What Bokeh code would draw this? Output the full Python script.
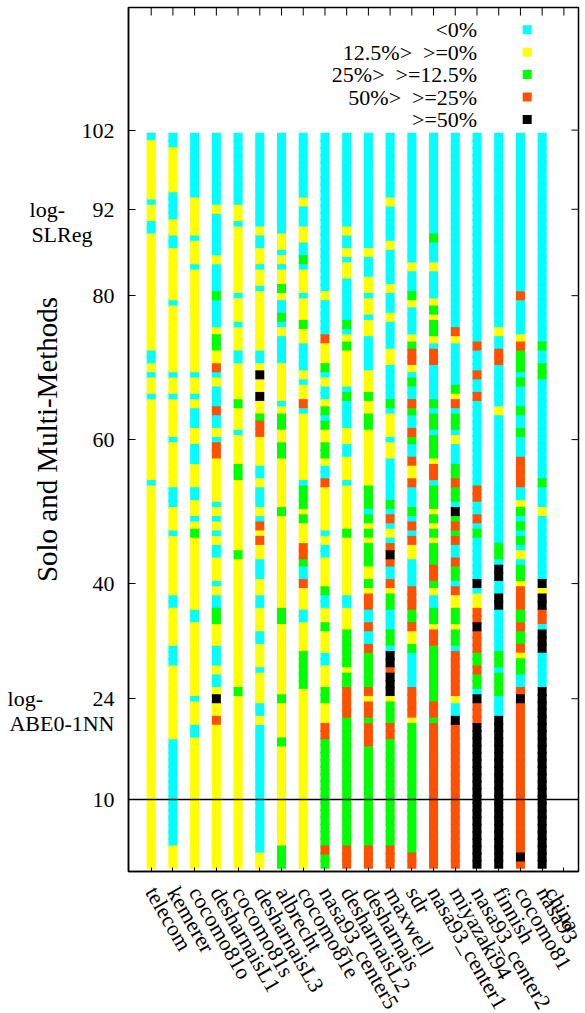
import math
from bokeh.plotting import figure
from bokeh.models import FixedTicker, LinearAxis, Span, Range1d
from bokeh.embed import file_html
from bokeh.resources import INLINE
from bokeh.core.properties import value

# ---------------- data ----------------
datasets = ["telecom", "kemerer", "cocomo81o", "desharnaisL1", "cocomo81s",
            "desharnaisL3", "albrecht", "cocomo81e", "nasa93_center5",
            "desharnaisL2", "desharnais", "maxwell", "sdr", "nasa93_center1",
            "miyazaki94", "nasa93_center2", "finnish", "cocomo81", "nasa93", "china"]

# colour class of each of the 102 methods (rows 1..102, bottom to top), run-length coded
# C: <0%   Y: 12.5%> >=0%   G: 25%> >=12.5%   O: 50%> >=25%   K: >=50%
telecom = "Y53 C1 Y11 C1 Y2 C1 Y1 C2 Y16 C2 Y2 C1 Y8 C1"
kemerer = "Y3 C15 Y10 C3 Y5 C2 Y8 C1 Y3 C3 Y6 C1 Y5 C1 Y2 C1 Y9 C1 Y7 C2 Y2 C4 Y6 C2"
cocomo81o = "Y18 C2 Y3 C1 Y10 C2 Y10 G1 Y1 C1 Y2 C2 Y3 C3 Y2 C3 Y1 C1 Y2 C1 Y14 C1 Y3 C1 Y5 C9"
desharnaisL1 = ("Y20 O1 Y2 K1 Y1 C2 Y1 C3 Y3 G2 C2 Y1 C1 Y3 C2 Y1 C1 Y1 C1 Y1 C1 Y6 O2 C1 Y1 "
                "C2 O1 C3 Y1 C1 O1 Y2 G2 Y1 C4 G1 C4 Y1 C6 Y1 C10")
cocomo81s = "Y24 G1 Y18 G1 Y10 G2 Y4 C1 Y3 G1 Y5 C2 Y3 C1 Y3 C1 Y9 C1 Y2 C10"
desharnaisL3 = ("Y2 C18 Y1 C2 Y4 C1 Y3 C2 Y3 C2 Y2 C3 Y2 O1 Y1 O1 C1 Y1 C3 Y1 C2 Y4 O2 G1 Y2 "
                "K1 Y2 K1 Y1 C2 Y8 C1 Y2 C1 Y2 C2 Y1 C13")
albrecht = ("G3 Y14 G1 Y5 G1 Y10 G2 Y13 G1 Y7 G2 Y2 G2 Y1 C1 Y5 C4 Y1 C1 G1 C2 Y1 G1 Y2 C1 "
            "Y1 C1 Y2 C14")
cocomo81e = ("Y25 G5 Y4 C2 Y3 O1 C2 G1 O2 Y3 G1 Y1 G3 C1 Y9 C1 O1 Y2 C1 Y1 C4 Y2 G1 Y3 C1 "
             "Y3 C1 G1 C2 Y2 C3 Y1 C9")
nasa93_center5 = ("G2 O1 G15 O2 Y3 G2 Y3 C2 Y3 G1 Y2 C2 G1 Y4 C2 Y1 C1 Y6 O1 C2 Y1 G2 Y2 G1 "
                  "C1 G1 Y1 C2 Y1 C1 G1 Y3 O1 C5 Y1 C22")
desharnaisL2 = ("O3 G18 O4 G2 Y1 G5 Y3 C2 Y8 G1 Y6 C1 Y3 C2 Y2 C4 G1 C1 Y5 G1 Y1 C1 G1 C6 "
                "Y2 C1 Y1 C2 Y1 C13")
desharnais = ("O3 G14 O3 G1 O2 Y1 O1 G5 O1 C2 O1 C2 O2 Y1 G1 Y2 G3 Y1 G1 Y1 G1 C1 G3 Y8 G2 "
              "Y2 G1 Y3 C5 Y2 C1 Y2 C1 Y2 C3 Y1 C16")
maxwell = ("O3 G15 O2 G3 Y1 K3 O1 K2 C1 G2 C3 G2 Y1 O1 C2 O1 K1 O1 C1 Y1 C1 O1 C1 G1 C6 Y2 "
           "C1 Y3 C1 G1 C5 Y2 C4 Y1 C3 Y1 C5 Y1 C5 Y1 C9")
sdr = ("O2 G18 Y1 O4 C5 G1 Y2 O1 G2 O3 C4 Y2 O1 C1 O1 C1 G1 C3 O1 Y2 O1 C2 G1 O1 C2 G1 O1 "
       "C2 G1 C1 Y1 O2 G1 Y1 C4 Y1 G1 C3 Y1 C18")
nasa93_center1 = ("O20 G1 O2 G8 O2 Y1 G2 C2 Y1 G1 O2 G3 Y1 G1 Y1 G1 Y1 G3 C1 O2 Y1 G3 C1 G2 "
                  "C1 G1 C5 O2 C1 Y1 G2 Y1 G1 Y1 C4 Y1 C3 G1 C14")
miyazaki94 = ("O20 K1 C2 Y1 O6 C1 G2 Y1 G2 Y2 O1 C1 G2 O1 C2 O1 G1 O1 G1 K1 C1 G2 O1 G2 C3 "
              "Y1 C1 G2 C1 O1 Y1 G1 C6 Y1 O1 C27")
nasa93_center2 = ("K20 O3 K1 C1 G2 O1 G2 O3 K1 O2 Y2 C1 K1 C6 G1 C1 O1 C2 O2 C12 O1 C2 O1 C3 "
                  "O1 C29")
finnish = "K21 C3 G3 C1 G2 C6 K2 C2 K2 C1 G2 C18 Y1 C6 O2 C2 Y1 C27"
cocomo81 = ("O1 K1 O21 K1 O1 C2 G2 Y1 O1 G2 O1 G2 O3 Y1 G2 C1 Y1 C1 G1 C1 G1 C1 G1 Y1 C2 O4 "
            "C3 G1 C2 G1 C3 G1 C1 G3 O1 Y1 C5 O1 C22")
nasa93 = "K25 C5 K3 C1 O2 K2 Y1 K1 C9 Y1 C3 G1 C14 G2 C2 G1 C29"
china = ""

runs = [telecom, kemerer, cocomo81o, desharnaisL1, cocomo81s, desharnaisL3, albrecht,
        cocomo81e, nasa93_center5, desharnaisL2, desharnais, maxwell, sdr, nasa93_center1,
        miyazaki94, nasa93_center2, finnish, cocomo81, nasa93, china]

NB = "\u00a0"
classes = ["C", "Y", "G", "O", "K"]
class_labels = ["<0%", "12.5%>" + NB + " >=0%", "25%>" + NB + " >=12.5%",
                "50%>" + NB + " >=25%", ">=50%"]
class_colors = ["#00ffff", "#ffff00", "#00ff00", "#ff5000", "#000000"]

ytick_pos = [10, 24, 40, 60, 80, 92, 103]
ytick_txt = ["10",
             "\nlog-" + NB * 9 + "24\nABE0-1NN",
             "40", "60", "80",
             "\nlog-" + NB * 5 + "92\nSLReg" + NB * 4,
             "102"]
baseline_value = 10

# ---------------- layout ----------------
FONT = "Liberation Serif"
FL, FT, FW, FH, FR, FB = 128, 7, 450, 864, 7, 142
XPU, YPU = 21.72, 7.198
x0 = -0.045
x1 = x0 + FW / XPU
y1 = FH / YPU


def px_to_x(fx):
    return x0 + (fx - FL) / XPU


def py_to_y(fy):
    return (FT + FH - fy) / YPU


p = figure(frame_width=FW, frame_height=FH, x_range=Range1d(x0, x1), y_range=Range1d(0, y1),
           output_backend="svg", toolbar_location=None, x_axis_type=None, y_axis_type=None,
           min_border_left=FL, min_border_top=FT, min_border_right=FR, min_border_bottom=FB)
p.outline_line_color = "black"
p.outline_line_width = 1.5
p.background_fill_color = "white"
p.border_fill_color = "white"

# cells: one filled square per method, drawn class by class (later classes on top)
for cls, col in zip(classes, class_colors):
    xs, ys = [], []
    for i, r in enumerate(runs):
        row = 0
        for tok in r.split():
            c, n = tok[0], int(tok[1:])
            for _ in range(n):
                row += 1
                if c == cls:
                    xs.append(i + 1)
                    ys.append(row)
    p.scatter(xs, ys, marker="square", size=9, fill_color=col, line_color=None)

p.add_layout(Span(location=baseline_value, dimension="width", line_color="black", line_width=1.5))

xpos = list(range(1, len(datasets) + 1))

# mirrored ticks on the top and right borders
p.segment(x0=xpos, y0=[y1] * len(xpos), x1=xpos, y1=[y1 - 8 / YPU] * len(xpos),
          line_color="black", line_width=1)
p.segment(x0=[x1] * len(ytick_pos), y0=ytick_pos, x1=[x1 - 7 / XPU] * len(ytick_pos),
          y1=ytick_pos, line_color="black", line_width=1)


def style_axis(ax, tick_in):
    ax.major_tick_in = tick_in
    ax.major_tick_out = 0
    ax.minor_tick_line_color = None
    ax.axis_line_color = "black"
    ax.axis_line_width = 1.5
    ax.major_tick_line_color = "black"
    ax.major_tick_line_width = 1
    ax.major_label_text_font = FONT
    ax.major_label_text_font_size = "22px"
    ax.major_label_text_color = "black"


xb = LinearAxis(ticker=FixedTicker(ticks=xpos),
                major_label_overrides={x: n for x, n in zip(xpos, datasets)})
style_axis(xb, 4)
xb.major_label_orientation = -math.pi / 3
xb.major_label_standoff = 17
p.add_layout(xb, "below")

yl = LinearAxis(ticker=FixedTicker(ticks=ytick_pos),
                major_label_overrides={v: t for v, t in zip(ytick_pos, ytick_txt)},
                axis_label="Solo and Multi-Methods")
style_axis(yl, 7)
yl.major_label_standoff = 14
yl.major_label_text_line_height = 1.0
yl.axis_label_text_font = FONT
yl.axis_label_text_font_size = "29px"
yl.axis_label_text_font_style = "normal"
yl.axis_label_text_color = "black"
yl.axis_label_standoff = -58
p.add_layout(yl, "left")

# legend (labels right aligned, square key on the right)
leg_rows_py = [29.3 + 22.4 * k for k in range(len(classes))]
leg_y = [py_to_y(v) for v in leg_rows_py]
p.text(x=[px_to_x(476.7)] * len(classes), y=leg_y, text=class_labels, text_align="right",
       text_baseline="middle", text_font=value(FONT), text_font_size=value("22px"),
       text_color="black")
p.scatter(x=[px_to_x(526.7)] * len(classes), y=leg_y, marker="square", size=9,
          fill_color=class_colors, line_color=None)

open("out.html", "w").write(file_html(p, INLINE))
